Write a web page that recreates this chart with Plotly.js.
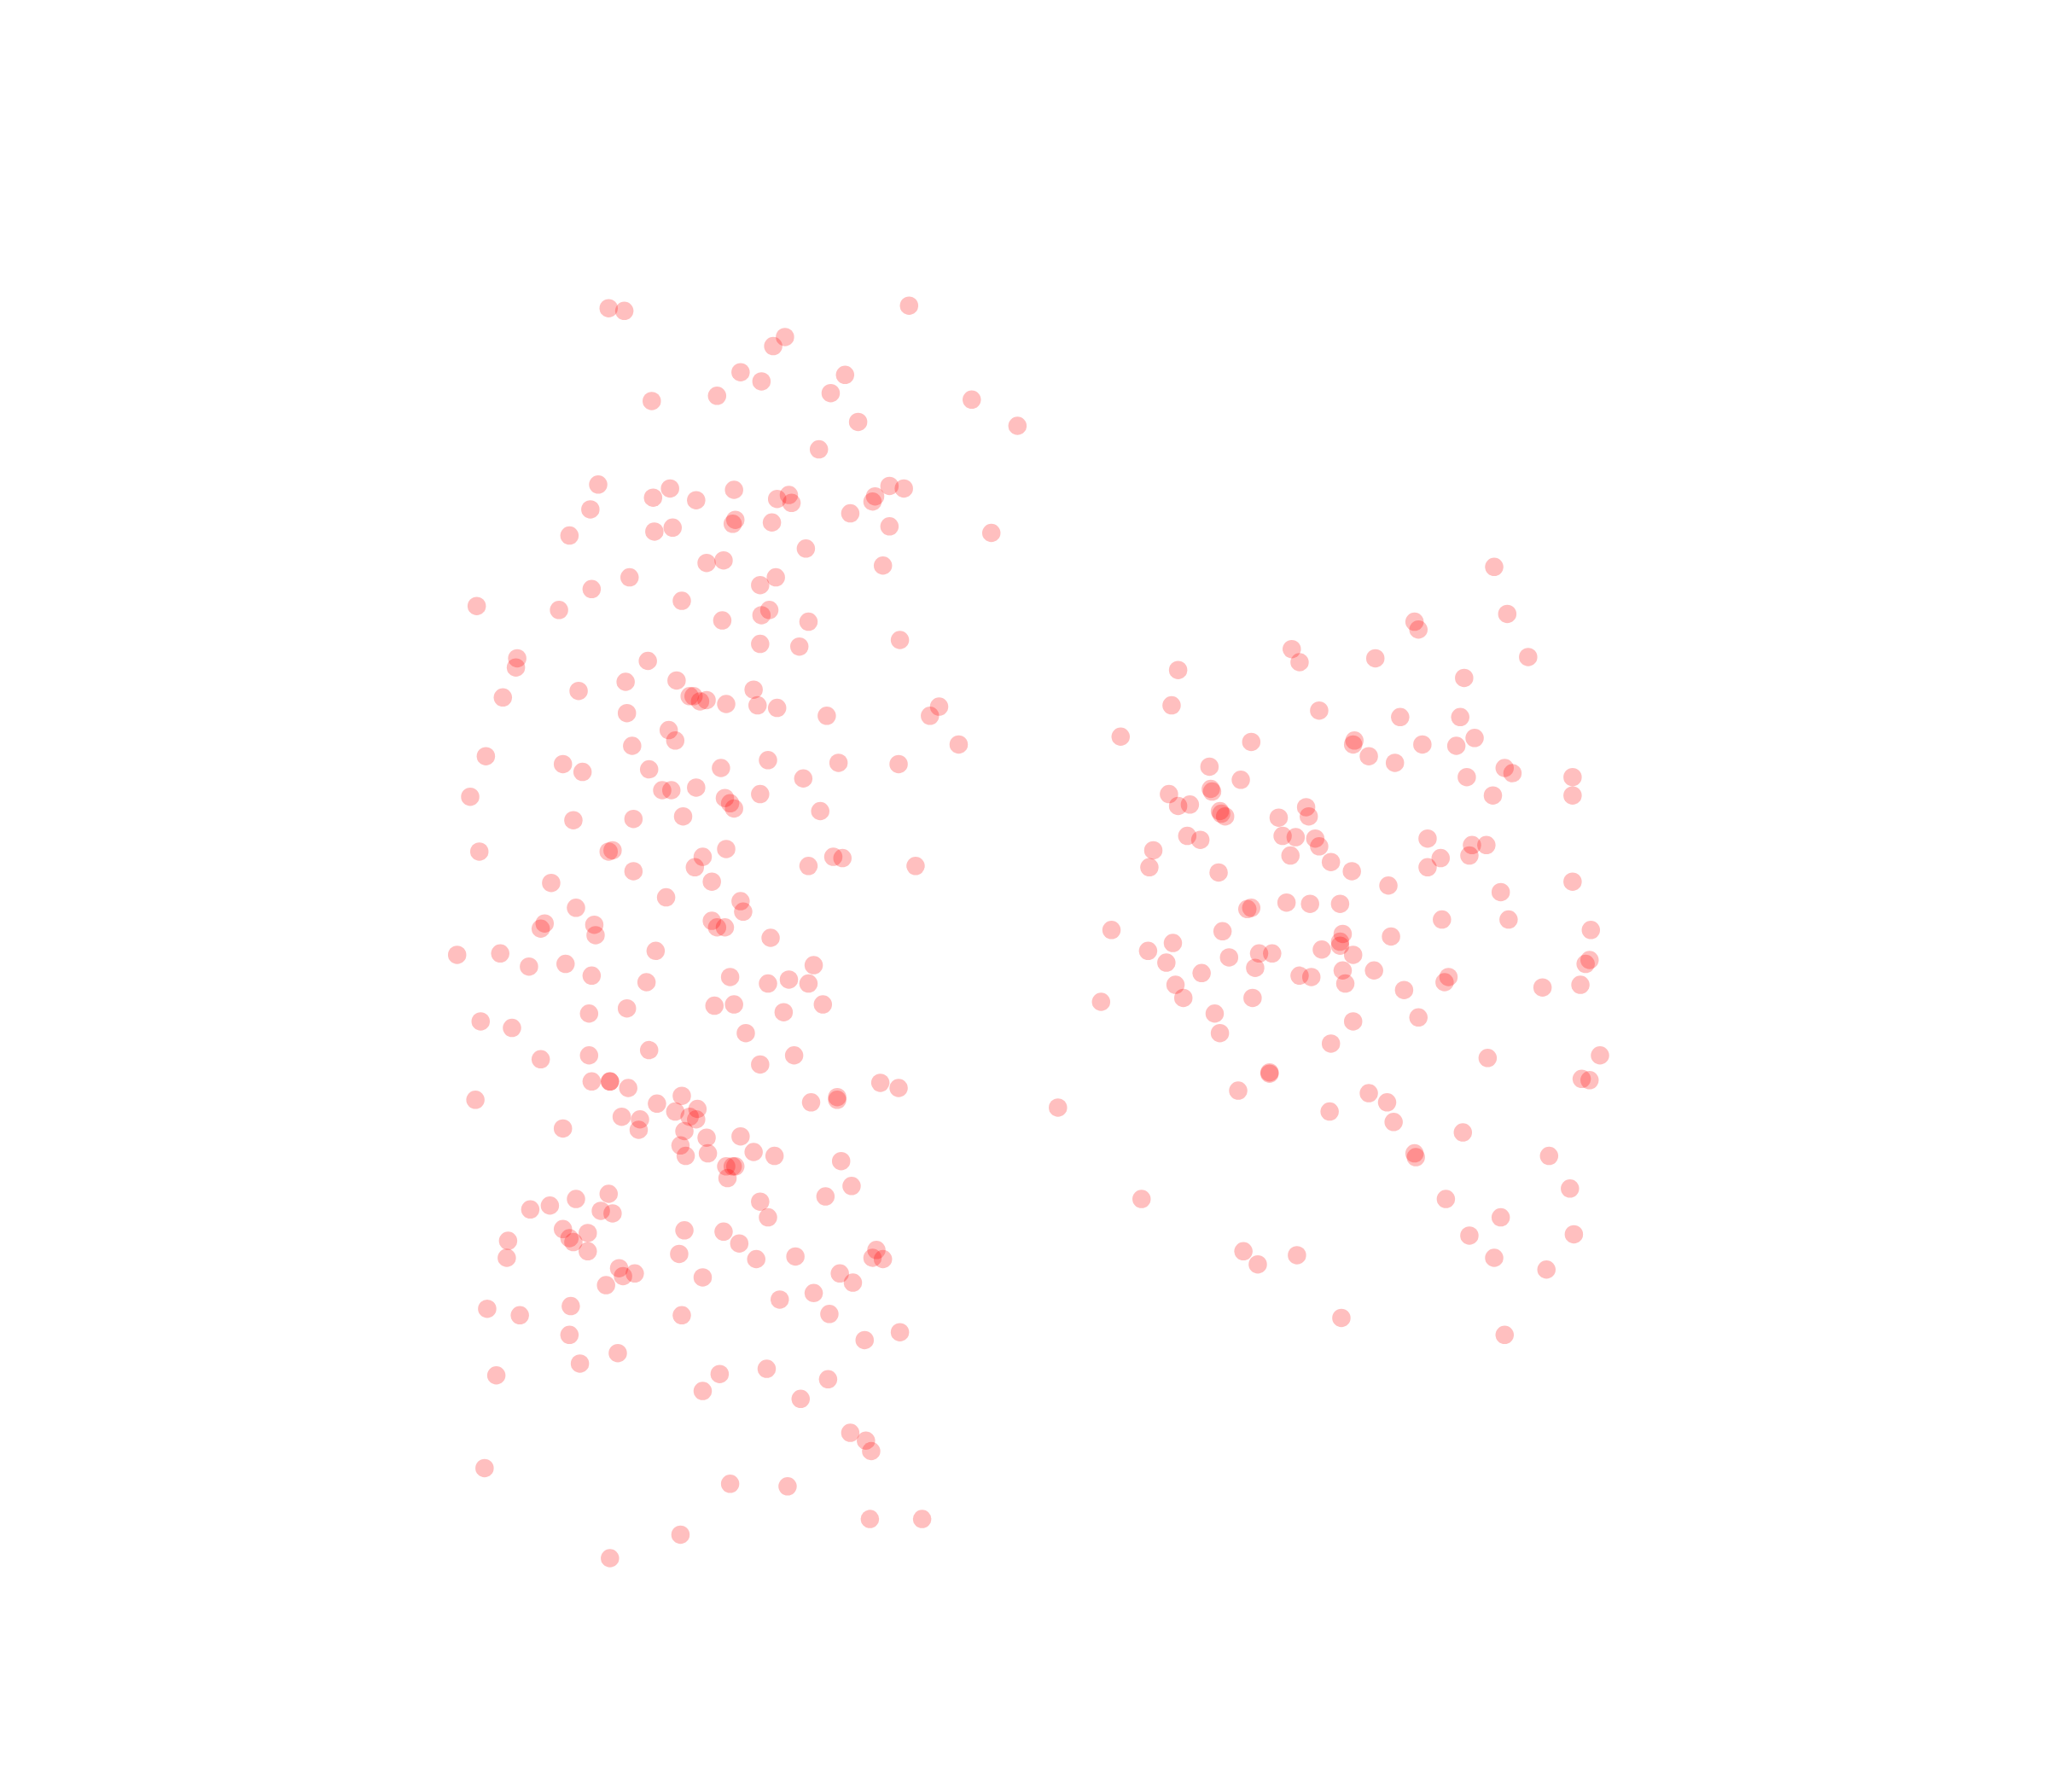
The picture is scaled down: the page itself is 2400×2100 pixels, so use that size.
<!DOCTYPE html>
<html><head><meta charset="utf-8"><script src="https://cdn.plot.ly/plotly-3.0.1.min.js"></script>
<style>html,body{margin:0;padding:0;background:#fff}</style></head><body><div id="c" style="width:2400px;height:2100px"></div>
<script>
const xLeft=[466,478,696,601,592,567,583,647,636,549,499,744,779,657,627,458,452,436,513,500,533,562,595,604,606,591,563,561,515,501,670,668,681,692,651,681,759,617,594,582,554,541,676,482,453,428,365,522,553,583,589,619,582,612,689,396,395,385,443,479,496,518,528,531,536,541,556,577,580,595,633,480,512,517,484,719,712,734,372,431,446,497,552,588,615,642,688,360,507,514,533,555,559,562,582,628,439,485,523,367,466,469,538,556,619,638,645,701,485,532,545,422,510,567,569,441,417,414,455,456,545,549,555,590,350,383,405,433,453,502,495,559,588,604,619,623,630,451,480,547,562,600,368,392,571,414,497,451,608,582,453,467,467,481,503,522,534,517,528,533,364,476,490,489,431,524,521,541,525,542,567,577,593,621,641,641,674,688,644,556,561,563,557,652,632,582,588,466,460,469,441,421,406,431,436,439,450,450,389,388,524,554,566,579,520,609,671,668,676,474,477,486,464,538,643,653,623,597,373,398,437,522,635,436,473,444,689,662,587,551,634,380,538,613,651,663,667,371,559,603,521,666,706,467];
const yLeft=[236,238,234,258,265,285,292,287,301,303,307,306,326,323,344,371,390,410,374,381,383,375,382,379,385,400,398,401,404,407,380,384,372,374,393,403,408,420,442,448,429,431,433,442,451,467,464,460,475,471,467,476,493,495,490,504,511,534,529,522,506,521,533,533,537,536,539,528,540,542,548,546,559,567,571,541,548,570,579,585,591,589,588,582,596,584,585,610,605,605,603,611,615,619,608,621,628,627,625,652,652,651,656,650,663,656,657,663,667,664,675,676,687,690,698,695,707,711,708,716,705,710,710,718,731,730,740,738,747,728,752,748,753,750,753,739,769,776,772,770,769,775,782,787,791,811,804,808,808,815,828,828,828,833,845,839,849,851,855,857,842,855,857,865,864,866,877,871,885,883,870,882,885,844,840,842,829,833,889,893,893,893,902,908,916,920,932,914,927,929,918,923,926,941,948,951,944,958,950,963,942,943,952,964,960,962,957,963,964,971,977,975,984,978,975,982,990,995,1002,1007,1000,1007,1006,1022,1036,1044,1020,1026,1048,1052,1056,1053,1065,1071,1097,1103,1111,1124,1136,1138,1175,1163,1163,1193];
const xRight=[1144,1154,1083,1086,1170,1121,989,995,1053,902,897,1010,1072,1118,1129,1115,1089,1037,1036,1048,1068,858,958,926,950,1152,1158,1123,1143,1204,1204,927,928,895,902,911,934,935,938,979,1000,1002,982,992,1007,1010,1093,1127,1138,1125,1103,1093,988,1019,1035,1063,909,919,883,880,933,1149,1204,985,1003,1026,955,958,1155,1104,851,936,1028,1026,1026,1012,974,964,941,1036,1065,1218,1217,1214,879,898,893,920,961,995,1004,1028,1030,1052,1109,1106,1075,1181,1210,900,906,959,843,930,934,1036,1086,1019,1139,1225,1211,1217,948,972,972,1048,1062,1018,810,1067,1120,1083,1084,1186,1202,874,1107,1149,1125,1205,1144,1184,952,963,993,1027,1152];
const yRight=[434,470,476,482,503,519,497,507,504,513,540,544,549,549,565,571,570,567,570,579,584,564,568,587,597,588,592,595,609,595,609,604,606,608,617,616,621,623,625,626,618,625,640,641,642,648,642,647,647,655,657,664,655,660,667,678,640,643,651,664,668,683,675,691,692,692,696,695,704,704,712,713,715,721,724,727,730,730,733,731,717,712,735,738,728,722,737,745,741,747,748,743,753,743,748,752,758,756,754,754,764,764,767,776,791,782,779,799,810,808,826,827,835,822,821,837,844,851,848,859,867,883,886,885,910,918,918,932,946,945,963,972,958,968,961,1009,1022];
const opacity=0.25;
const traces=[{x:xLeft,y:yLeft},{x:xRight,y:yRight}].map(s=>({x:s.x,y:s.y,type:'scatter',mode:'markers',hoverinfo:'skip',marker:{color:'rgb(255,0,0)',opacity:opacity,size:21.5,line:{width:0}}}));
const hidden={visible:false,fixedrange:true};
Plotly.newPlot('c',traces,{width:2400,height:2100,margin:{l:0,r:0,t:0,b:0},showlegend:false,paper_bgcolor:'#fff',plot_bgcolor:'#fff',
xaxis:Object.assign({range:[0,1568]},hidden),yaxis:Object.assign({range:[1372,0]},hidden)},{displayModeBar:false,staticPlot:true});
</script></body></html>
